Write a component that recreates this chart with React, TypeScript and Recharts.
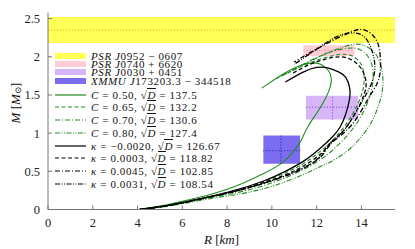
import React from "react";
import { LineChart, Line, XAxis, YAxis, ReferenceArea, ReferenceLine, Legend } from "recharts";

const FONT = "Liberation Serif, DejaVu Serif, serif";
const GREEN = "#228b22";

const xTicks = [0, 2, 4, 6, 8, 10, 12, 14];
const yTicks = [0, 0.5, 1, 1.5, 2, 2.5];

// observational constraints: [low, centre, high]
const obsNames = ["PSR J0952 − 0607", "PSR J0740 + 6620", "PSR J0030 + 0451", "XMMU J173203.3 − 344518"];
const obsR = [null, [11.41, 12.39, 13.69], [11.52, 12.71, 13.85], [9.62, 10.4, 11.26]];
const obsM = [[2.18, 2.35, 2.52], [2.01, 2.08, 2.15], [1.18, 1.34, 1.49], [0.6, 0.77, 0.97]];
const obsFill = ["#ffff55", "#ffcdd6", "#d7b6f8", "#7b6cf0"];
const obsDot = ["#ff9a1a", "#f08aa0", "#8a2ee0", "#1c1ca8"];

// M-R curves, [R km, M Msun]
const c050: [number, number][] = [[4.05, 0], [5.0, 0.045], [5.9, 0.1], [7.4, 0.21], [8.6, 0.33], [9.7, 0.48], [10.5, 0.62], [11.0, 0.77], [11.3, 0.9], [11.6, 1.08], [12.0, 1.26], [12.37, 1.44], [12.6, 1.6], [12.65, 1.72], [12.5, 1.83], [12.2, 1.9], [11.9, 1.92], [11.4, 1.9], [10.6, 1.79], [9.55, 1.59]];
const c065: [number, number][] = [[4.1, 0], [5.5, 0.06], [6.8, 0.14], [8.1, 0.23], [9.6, 0.36], [11.1, 0.55], [11.8, 0.68], [12.4, 0.82], [13.0, 1.0], [13.5, 1.2], [13.9, 1.42], [14.1, 1.62], [14.1, 1.8], [13.9, 1.94], [13.5, 2.02], [13.0, 2.03], [12.4, 1.99], [11.6, 1.91], [10.8, 1.8], [10.1, 1.7]];
const c070: [number, number][] = [[4.1, 0], [5.5, 0.055], [6.8, 0.13], [8.1, 0.2], [9.6, 0.31], [11.1, 0.48], [12.15, 0.65], [12.8, 0.8], [13.4, 0.98], [13.9, 1.18], [14.3, 1.42], [14.5, 1.65], [14.5, 1.85], [14.3, 2.0], [13.9, 2.1], [13.3, 2.11], [12.6, 2.06], [11.8, 1.96], [11.0, 1.84], [10.3, 1.73]];
const c080: [number, number][] = [[4.1, 0], [5.5, 0.05], [6.8, 0.12], [8.1, 0.18], [9.6, 0.27], [11.1, 0.42], [12.15, 0.56], [12.6, 0.62], [13.3, 0.75], [13.9, 0.92], [14.4, 1.12], [14.75, 1.35], [14.95, 1.6], [14.9, 1.85], [14.6, 2.05], [14.1, 2.15], [13.6, 2.16], [12.9, 2.1], [12.1, 2.0], [11.3, 1.88], [10.6, 1.77]];
const kNeg0020: [number, number][] = [[4.1, 0], [5.5, 0.06], [6.8, 0.14], [8.1, 0.23], [9.6, 0.37], [10.6, 0.5], [11.4, 0.63], [12.15, 0.8], [12.7, 0.95], [13.05, 1.08], [13.3, 1.25], [13.47, 1.45], [13.47, 1.6], [13.3, 1.73], [13.0, 1.8], [12.5, 1.855], [12.0, 1.86], [11.4, 1.8], [10.6, 1.67]];
const k0003: [number, number][] = [[4.1, 0], [5.5, 0.06], [6.8, 0.14], [8.1, 0.22], [9.6, 0.35], [11.1, 0.52], [12.15, 0.72], [12.5, 0.83], [13.1, 1.0], [13.6, 1.2], [14.0, 1.42], [14.2, 1.6], [14.15, 1.75], [13.9, 1.88], [13.5, 1.97], [13.0, 2.0], [12.4, 1.97], [11.7, 1.9], [10.9, 1.78]];
const k0045: [number, number][] = [[4.1, 0], [5.5, 0.06], [6.8, 0.14], [8.1, 0.22], [9.6, 0.34], [11.1, 0.5], [12.15, 0.68], [12.6, 0.85], [13.2, 1.0], [13.8, 1.2], [14.3, 1.45], [14.7, 1.65], [14.85, 1.85], [14.8, 2.1], [14.6, 2.25], [14.3, 2.33], [13.95, 2.36], [13.5, 2.32], [12.75, 2.22], [12.0, 2.1], [11.5, 2.02], [11.0, 1.93]];
const k0031: [number, number][] = [[4.1, 0], [5.5, 0.06], [6.8, 0.14], [8.1, 0.22], [9.6, 0.34], [11.1, 0.5], [12.15, 0.69], [12.5, 0.84], [13.1, 1.0], [13.6, 1.2], [14.1, 1.45], [14.45, 1.65], [14.6, 1.85], [14.5, 2.05], [14.25, 2.22], [13.9, 2.3], [13.4, 2.31], [12.8, 2.25], [12.0, 2.1], [11.0, 1.9]];

const curves = [c050, c065, c070, c080, kNeg0020, k0003, k0045, k0031];
const curveParam = ["0.50", "0.65", "0.70", "0.80", "−0.0020", "0.0003", "0.0045", "0.0031"];
const curveSqrtD = ["137.5", "132.2", "130.6", "127.4", "126.67", "118.82", "102.85", "108.54"];
const curveColor = [GREEN, GREEN, GREEN, GREEN, "#000", "#000", "#000", "#000"];
const curveDash = ["", "4 2.5", "5 2 1 2", "5 1.5 1 1.5 1 1.5", "", "4 2.5", "5 2 1 2", "5 1.5 1 1.5 1 1.5"];

const toPts = (c: [number, number][]) => c.map(([r, m]) => ({ r, m }));

function ObsLabel({ text }: { text: string }) {
  const m = text.match(/^([A-Z]+ J)(.*)$/);
  return (
    <span>
      <i>{m ? m[1] : text}</i>
      {m ? m[2] : ""}
    </span>
  );
}

function CurveLabel({ i }: { i: number }) {
  return (
    <span>
      <i>{i < 4 ? "C" : "κ"}</i> = {curveParam[i]}, √
      <span style={{ borderTop: "0.8px solid #111" }}>
        <i>D</i>
      </span>{" "}
      = {curveSqrtD[i]}
    </span>
  );
}

function LegendBox() {
  return (
    <div style={{ fontFamily: FONT, fontSize: 11, letterSpacing: 0.6, color: "#111", lineHeight: "8px", whiteSpace: "nowrap" }}>
      {obsNames.map((n, i) => (
        <div key={n} style={{ display: "flex", alignItems: "center", height: 8.2 }}>
          <span style={{ display: "inline-block", width: 31, height: 6, background: obsFill[i], marginRight: 5 }} />
          <ObsLabel text={n} />
        </div>
      ))}
      <div style={{ height: 3.5 }} />
      {curves.map((_, i) => (
        <div key={i} style={{ display: "flex", alignItems: "center", height: 12.75 }}>
          <svg width={31} height={4} style={{ marginRight: 5 }}>
            <line x1={0} y1={2} x2={31} y2={2} stroke={curveColor[i]} strokeWidth={1.2} strokeDasharray={curveDash[i]} />
          </svg>
          <CurveLabel i={i} />
        </div>
      ))}
    </div>
  );
}

const YLabel = (props: any) => {
  const vb = props.viewBox;
  const cx = vb.x + 15;
  const cy = vb.y + vb.height / 2 - 8;
  return (
    <text x={cx} y={cy} transform={`rotate(-90, ${cx}, ${cy})`} textAnchor="middle" dominantBaseline="central" fontFamily={FONT} fontSize={13} fill="#111">
      <tspan fontStyle="italic">M</tspan> [<tspan fontStyle="italic">M</tspan>
      <tspan dy={3} fontSize={8.5}>⊙</tspan>
      <tspan dy={-3}>]</tspan>
    </text>
  );
};

const XLabel = (props: any) => {
  const vb = props.viewBox;
  return (
    <text x={vb.x + vb.width / 2} y={244} textAnchor="middle" fontFamily={FONT} fontSize={13} fill="#111">
      <tspan fontStyle="italic">R</tspan> [<tspan fontStyle="italic">km</tspan>]
    </text>
  );
};

export default function App() {
  const axisStroke = "#777";
  const tickStyle = { fontFamily: FONT, fontSize: 12.5, fill: "#222" };
  return (
    <div style={{ position: "fixed", left: 0, top: 0, background: "#fff", fontFamily: FONT }}>
      <LineChart width={415} height={249} margin={{ top: 12.5, right: 20, bottom: 9.5, left: 0 }} style={{ fontFamily: FONT }}>
        <XAxis dataKey="r" type="number" domain={[0, 15.5]} ticks={xTicks} allowDataOverflow tickSize={-4} tickMargin={13} stroke={axisStroke} tick={tickStyle} height={30} label={<XLabel />} />
        <XAxis xAxisId="top" orientation="top" type="number" domain={[0, 15.5]} ticks={xTicks} allowDataOverflow tickSize={-4} height={0} stroke={axisStroke} tickFormatter={() => ""} />
        <YAxis type="number" domain={[0, 2.58]} ticks={yTicks} allowDataOverflow tickSize={-4} tickMargin={12} width={48} stroke={axisStroke} tick={tickStyle} label={<YLabel />} />
        <YAxis yAxisId="right" orientation="right" type="number" domain={[0, 2.58]} ticks={yTicks} allowDataOverflow tickSize={-4} width={0} stroke={axisStroke} tickFormatter={() => ""} />

        <ReferenceArea y1={obsM[0][0]} y2={obsM[0][2]} fill={obsFill[0]} fillOpacity={1} stroke="none" />
        <ReferenceLine y={obsM[0][1]} stroke={obsDot[0]} strokeDasharray="1 2" strokeWidth={1} />
        {[1, 2, 3].map((i) => (
          <ReferenceArea key={"a" + i} x1={obsR[i]![0]} x2={obsR[i]![2]} y1={obsM[i][0]} y2={obsM[i][2]} fill={obsFill[i]} fillOpacity={1} stroke="none" />
        ))}
        {[1, 2, 3].map((i) => (
          <ReferenceLine key={"h" + i} segment={[{ x: obsR[i]![0], y: obsM[i][1] }, { x: obsR[i]![2], y: obsM[i][1] }]} stroke={obsDot[i]} strokeDasharray="1 2" strokeWidth={1} />
        ))}
        {[1, 2, 3].map((i) => (
          <ReferenceLine key={"v" + i} segment={[{ x: obsR[i]![1], y: obsM[i][0] }, { x: obsR[i]![1], y: obsM[i][2] }]} stroke={obsDot[i]} strokeDasharray="1 2" strokeWidth={1} />
        ))}

        {curves.map((c, i) => (
          <Line key={i} data={toPts(c)} dataKey="m" type="natural" stroke={curveColor[i]} strokeWidth={i < 4 ? 1.1 : 1.3} strokeDasharray={curveDash[i] || undefined} dot={false} isAnimationActive={false} />
        ))}

        <Legend layout="vertical" align="center" verticalAlign="middle" content={<LegendBox />} wrapperStyle={{ position: "absolute", left: 55, top: 52, width: "auto", height: "auto" }} />
      </LineChart>
    </div>
  );
}
